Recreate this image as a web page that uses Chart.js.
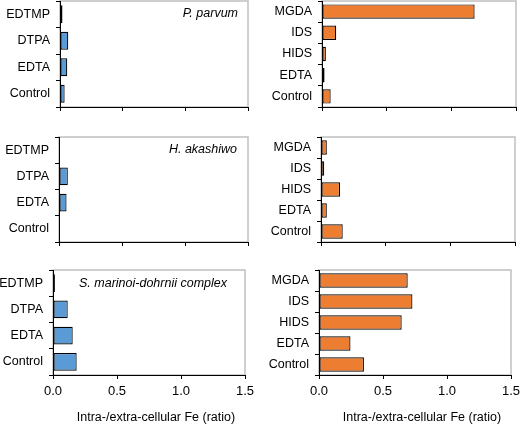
<!DOCTYPE html>
<html>
<head>
<meta charset="utf-8">
<script src="https://cdn.jsdelivr.net/npm/chart.js@4.4.1/dist/chart.umd.min.js"></script>
<style>
    html, body { margin: 0; padding: 0; background: #fff; }
    body { width: 520px; height: 424px; position: relative; overflow: hidden; }
    canvas { position: absolute; }
</style>
</head>
<body>
<canvas id="pp-left"></canvas>
<canvas id="pp-right"></canvas>
<canvas id="ha-left"></canvas>
<canvas id="ha-right"></canvas>
<canvas id="sm-left"></canvas>
<canvas id="sm-right"></canvas>
<script>
// Intra-/extra-cellular Fe ratio per chelator treatment and species
const leftChelators = ['EDTMP', 'DTPA', 'EDTA', 'Control'];
const rightChelators = ['MGDA', 'IDS', 'HIDS', 'EDTA', 'Control'];

const parvumLeft = [0.02, 0.066, 0.058, 0.037];
const parvumRight = [1.18, 0.11, 0.03, 0.02, 0.067];
const akashiwoLeft = [0.005, 0.07, 0.06, 0.005];
const akashiwoRight = [0.045, 0.025, 0.147, 0.045, 0.168];
const marinoiLeft = [0.015, 0.115, 0.154, 0.185];
const marinoiRight = [0.693, 0.73, 0.646, 0.246, 0.351];

const xTickValues = [0, 0.5, 1.0, 1.5];
const axisTitle = 'Intra-/extra-cellular Fe (ratio)';

const BLUE = '#5b9bd5';
const ORANGE = '#ed7d31';
const FONT = '"Liberation Sans", Arial, sans-serif';

// Gray frame on top/right of plot area, species name in italic, axis title
const framePlugin = {
    id: 'frame',
    beforeDraw(chart) {
        const { ctx, chartArea: a } = chart;
        ctx.save();
        ctx.strokeStyle = '#c0c0c0';
        ctx.lineWidth = 1.5;
        ctx.strokeRect(a.left, a.top, a.right - a.left, a.bottom - a.top);
        ctx.restore();
    },
    afterDraw(chart) {
        const opts = chart.options.plugins.frame;
        const { ctx, chartArea: a } = chart;
        ctx.save();
        ctx.fillStyle = '#000';
        ctx.textBaseline = 'middle';
        if (opts.species) {
            ctx.font = 'italic 12.5px ' + FONT;
            ctx.textAlign = 'right';
            ctx.fillText(opts.species, a.right - opts.dx, a.top + opts.dy);
        }
        if (opts.title) {
            ctx.font = '12.5px ' + FONT;
            ctx.textAlign = 'center';
            ctx.fillText(opts.title, (a.left + a.right) / 2 + 7, a.bottom + 43);
        }
        ctx.restore();
    }
};

function makePanel(id, box, plot, labels, values, color, showX, species, speciesPos) {
    const canvas = document.getElementById(id);
    canvas.style.left = box.x + 'px';
    canvas.style.top = box.y + 'px';
    canvas.width = box.w;
    canvas.height = box.h;
    canvas.style.width = box.w + 'px';
    canvas.style.height = box.h + 'px';

    const yWidth = plot.left - box.x;
    const xHeight = box.y + box.h - plot.bottom;

    new Chart(canvas.getContext('2d'), {
        type: 'bar',
        data: {
            labels: labels,
            datasets: [{
                data: values,
                backgroundColor: color,
                borderColor: '#000',
                borderWidth: 1.2,
                borderSkipped: false,
                barPercentage: 0.68,
                categoryPercentage: 1
            }]
        },
        options: {
            indexAxis: 'y',
            responsive: false,
            animation: false,
            devicePixelRatio: 1,
            layout: {
                padding: { left: 0, top: plot.top - box.y, right: box.x + box.w - plot.right, bottom: 0 }
            },
            plugins: {
                legend: { display: false },
                tooltip: { enabled: false },
                frame: { species: species, dx: speciesPos.dx, dy: speciesPos.dy, title: showX ? axisTitle : '' }
            },
            scales: {
                x: {
                    type: 'linear',
                    min: xTickValues[0],
                    max: xTickValues[xTickValues.length - 1],
                    afterBuildTicks: (scale) => { scale.ticks = xTickValues.map(v => ({ value: v })); },
                    afterFit: (scale) => { scale.height = xHeight; scale.paddingLeft = 0; scale.paddingRight = 0; },
                    border: { display: true, color: '#000', width: 1 },
                    grid: { drawOnChartArea: false, drawTicks: true, tickLength: 4, color: '#000' },
                    ticks: {
                        display: showX,
                        padding: 5,
                        color: '#000',
                        font: { family: FONT, size: 13 },
                        callback: (v) => Number(v).toFixed(1)
                    }
                },
                y: {
                    afterFit: (scale) => { scale.width = yWidth; scale.paddingTop = 0; scale.paddingBottom = 0; },
                    border: { display: true, color: '#000', width: 1 },
                    grid: { drawOnChartArea: false, drawTicks: true, tickLength: 4, color: '#000', offset: true },
                    ticks: {
                        padding: 6,
                        color: '#000',
                        font: { family: FONT, size: 12.5 }
                    }
                }
            }
        },
        plugins: [framePlugin]
    });
}

makePanel('pp-left', { x: 0, y: 0, w: 260, h: 135 }, { left: 60, right: 248, top: 1, bottom: 107 },
    leftChelators, parvumLeft, BLUE, false, 'P. parvum', { dx: 10, dy: 13 });
makePanel('pp-right', { x: 260, y: 0, w: 260, h: 135 }, { left: 322, right: 516, top: 1, bottom: 107 },
    rightChelators, parvumRight, ORANGE, false, '', { dx: 0, dy: 0 });
makePanel('ha-left', { x: 0, y: 135, w: 260, h: 130 }, { left: 59, right: 248, top: 137, bottom: 242 },
    leftChelators, akashiwoLeft, BLUE, false, 'H. akashiwo', { dx: 11, dy: 13 });
makePanel('ha-right', { x: 260, y: 135, w: 260, h: 130 }, { left: 321, right: 515, top: 137, bottom: 242 },
    rightChelators, akashiwoRight, ORANGE, false, '', { dx: 0, dy: 0 });
makePanel('sm-left', { x: 0, y: 265, w: 260, h: 159 }, { left: 53, right: 245, top: 270, bottom: 375 },
    leftChelators, marinoiLeft, BLUE, true, 'S. marinoi-dohrnii complex', { dx: 18, dy: 14 });
makePanel('sm-right', { x: 260, y: 265, w: 260, h: 159 }, { left: 319, right: 511, top: 270, bottom: 375 },
    rightChelators, marinoiRight, ORANGE, true, '', { dx: 0, dy: 0 });
</script>
</body>
</html>
